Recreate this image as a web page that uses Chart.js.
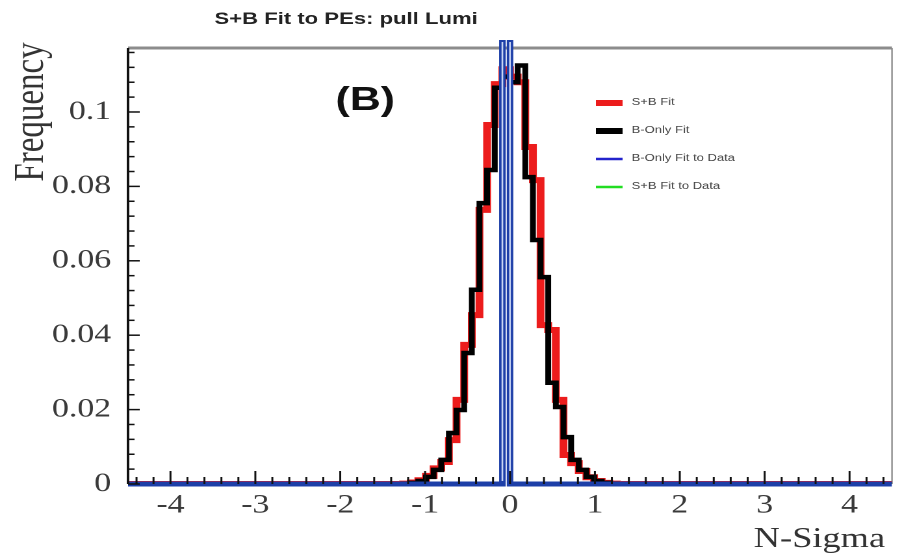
<!DOCTYPE html>
<html>
<head>
<meta charset="utf-8">
<script src="https://cdn.jsdelivr.net/npm/chart.js@4.4.1/dist/chart.umd.min.js"></script>
<style>
  html, body { margin: 0; padding: 0; background: #fff; overflow: hidden; }
  /* the original picture is stretched sideways, so is this one */
  #wrap { position: absolute; left: 0; top: 0; width: 694px; height: 558px;
          transform: scaleX(1.2997); transform-origin: 0 0; }
</style>
</head>
<body>
<div id="wrap"><canvas id="myChart"></canvas></div>
<script>
// histogram binning
const binStart = -4.5;
const binWidth = 0.09;
const binCount = 100;

// filled bins start at this edge
const firstEdge = -1.26;
const sbFitValues = [0.0001, 0.0004, 0.0010, 0.0022, 0.0042, 0.0059, 0.0118, 0.0226, 0.0374, 0.0454,
                     0.0737, 0.0965, 0.1075, 0.1115, 0.1095, 0.1080, 0.0906, 0.0817, 0.0427, 0.0414,
                     0.0226, 0.0078, 0.0056, 0.0035, 0.0018, 0.0008, 0.0003, 0.0001];
const bOnlyFitValues = [0.0001, 0.0003, 0.0008, 0.0019, 0.0038, 0.0065, 0.0137, 0.0199, 0.0352, 0.0522,
                        0.0755, 0.0844, 0.1065, 0.1095, 0.1080, 0.1125, 0.0825, 0.0656, 0.0556, 0.0272,
                        0.0207, 0.0126, 0.0065, 0.0038, 0.0019, 0.0008, 0.0003, 0.0001];

// fits to data: one bin each, far above the frame
const bOnlyDataEdge = [-0.09];
const bOnlyDataValues = [1];
const sbDataEdge = [-0.09];
const sbDataValues = [1];

const xTickValues = [-4, -3, -2, -1, 0, 1, 2, 3, 4];
const xTickLabels = ['-4', '-3', '-2', '-1', '0', '1', '2', '3', '4'];
const yTickValues = [0, 0.02, 0.04, 0.06, 0.08, 0.1];
const yTickLabels = ['0', '0.02', '0.04', '0.06', '0.08', '0.1'];

// build step points: one per bin left edge, plus the closing edge
function histPoints(values, edge0) {
    const pts = [];
    for (let i = 0; i < binCount; i++) {
        const edge = binStart + i * binWidth;
        const k = Math.round((edge - edge0) / binWidth);
        pts.push({ x: edge, y: (k >= 0 && k < values.length) ? values[k] : 0 });
    }
    pts.push({ x: binStart + binCount * binWidth, y: 0 });
    return pts;
}

const noClip = { left: 0, top: 0, right: 0, bottom: 0 };

// frame, inward ticks, legend and texts
const decor = {
    id: 'decor',
    beforeDatasetsDraw(chart) {
        const { ctx, chartArea: a } = chart;
        ctx.save();
        ctx.strokeStyle = '#8c8c8c';
        ctx.lineWidth = 3;
        ctx.beginPath(); ctx.moveTo(a.left, a.top); ctx.lineTo(a.right, a.top); ctx.stroke();
        ctx.lineWidth = 1.2;
        ctx.beginPath(); ctx.moveTo(a.right, a.top); ctx.lineTo(a.right, a.bottom); ctx.stroke();
        ctx.restore();
    },
    afterDatasetsDraw(chart) {
        const { ctx, chartArea: a, scales } = chart;
        const xs = scales.x, ys = scales.y;
        ctx.save();

        // light core of the blue data lines
        const blue = chart.data.datasets[2].data;
        ctx.strokeStyle = '#c9d5f3';
        ctx.lineWidth = 1.3;
        for (let i = 0; i < blue.length - 1; i++) {
            if (blue[i].y > 0) {
                [blue[i].x, blue[i + 1].x].forEach(e => {
                    const px = xs.getPixelForValue(e);
                    ctx.beginPath(); ctx.moveTo(px, a.top - 6); ctx.lineTo(px, a.bottom - 3); ctx.stroke();
                });
            }
        }

        // left axis with inward ticks
        ctx.strokeStyle = '#111';
        ctx.lineWidth = 2;
        ctx.beginPath(); ctx.moveTo(a.left, a.top); ctx.lineTo(a.left, a.bottom); ctx.stroke();
        ctx.lineWidth = 1.5;
        const yStep = (yTickValues[1] - yTickValues[0]) / 5;
        for (let k = 0; k * yStep <= ys.max + 1e-9; k++) {
            const py = ys.getPixelForValue(k * yStep);
            const len = (k % 5 === 0) ? 9 : 5;
            ctx.beginPath(); ctx.moveTo(a.left, py); ctx.lineTo(a.left + len, py); ctx.stroke();
        }
        // bottom axis ticks
        const xStep = (xTickValues[1] - xTickValues[0]) / 5;
        for (let k = Math.ceil(xs.min / xStep); k * xStep <= xs.max + 1e-9; k++) {
            const px = xs.getPixelForValue(k * xStep);
            const len = (k % 5 === 0) ? 13 : 7;
            ctx.beginPath(); ctx.moveTo(px, a.bottom); ctx.lineTo(px, a.bottom - len); ctx.stroke();
        }

        // legend
        const legendWidths = [6, 6, 2.5, 2.5];
        ctx.font = '10px "Liberation Sans"';
        ctx.fillStyle = '#444';
        ctx.textBaseline = 'middle';
        ctx.textAlign = 'left';
        chart.data.datasets.forEach((ds, i) => {
            const y = 103 + i * 28;
            ctx.strokeStyle = ds.legendColor || ds.borderColor;
            ctx.lineWidth = legendWidths[i];
            ctx.beginPath(); ctx.moveTo(458.5, y); ctx.lineTo(479, y); ctx.stroke();
            ctx.fillText(ds.label, 486, y - 1);
        });

        // title and labels
        ctx.fillStyle = '#222';
        ctx.font = 'bold 17px "Liberation Sans"';
        ctx.textBaseline = 'alphabetic';
        ctx.fillText('S+B Fit to PEs: pull Lumi', 165, 24);

        ctx.fillStyle = '#111';
        ctx.font = 'bold 33px "Liberation Sans"';
        ctx.textAlign = 'center';
        ctx.textBaseline = 'middle';
        ctx.fillText('(B)', 281, 101);

        ctx.fillStyle = '#333';
        ctx.font = '28px "Liberation Serif"';
        ctx.textAlign = 'right';
        ctx.textBaseline = 'alphabetic';
        ctx.fillText('N-Sigma', 681, 547);

        ctx.translate(33, 112);
        ctx.rotate(-Math.PI / 2);
        ctx.textAlign = 'center';
        ctx.font = '33px "Liberation Serif"';
        ctx.fillText('Frequency', 0, 0);
        ctx.restore();
    }
};

const ctx = document.getElementById('myChart').getContext('2d');

window.myChart = new Chart(ctx, {
    type: 'line',
    data: {
        datasets: [
            {
                label: 'S+B Fit',
                data: histPoints(sbFitValues, firstEdge),
                borderColor: '#ec1c1c',
                borderWidth: 6,
                order: 3,
                clip: noClip
            },
            {
                label: 'B-Only Fit',
                data: histPoints(bOnlyFitValues, firstEdge),
                borderColor: '#000000',
                borderWidth: 4.5,
                order: 2,
                clip: noClip
            },
            {
                label: 'B-Only Fit to Data',
                data: histPoints(bOnlyDataValues, bOnlyDataEdge[0]),
                borderColor: '#1d3fa8',
                legendColor: '#2323cc',
                borderWidth: 5,
                order: 0,
                clip: { left: 0, top: 8, right: 0, bottom: 6 }
            },
            {
                label: 'S+B Fit to Data',
                data: histPoints(sbDataValues, sbDataEdge[0]),
                borderColor: '#22dd22',
                borderWidth: 2,
                order: 1,
                clip: noClip
            }
        ]
    },
    options: {
        responsive: true,
        maintainAspectRatio: false,
        animation: false,
        devicePixelRatio: 2,
        layout: { padding: { top: 48, right: 7.7, left: 0, bottom: 0 } },
        elements: {
            point: { radius: 0 },
            line: { stepped: true, fill: false, tension: 0, borderCapStyle: 'butt', borderJoinStyle: 'miter' }
        },
        scales: {
            x: {
                type: 'linear',
                min: binStart,
                max: binStart + binCount * binWidth,
                afterBuildTicks: s => { s.ticks = xTickValues.map(v => ({ value: v })); },
                afterFit: s => { s.height = 74; },
                grid: { display: false },
                border: { display: false },
                ticks: {
                    callback: (v, i) => xTickLabels[i],
                    autoSkip: false, maxRotation: 0,
                    padding: -2,
                    color: '#3a3a3a',
                    font: { family: 'Liberation Serif', size: 26 }
                }
            },
            y: {
                min: 0,
                max: 0.1172,
                afterBuildTicks: s => { s.ticks = yTickValues.map(v => ({ value: v })); },
                afterFit: s => { s.width = 98.5; },
                grid: { display: false },
                border: { display: false },
                ticks: {
                    callback: (v, i) => yTickLabels[i],
                    autoSkip: false,
                    padding: 5,
                    color: '#3a3a3a',
                    font: { family: 'Liberation Serif', size: 26 }
                }
            }
        },
        plugins: {
            legend: { display: false },
            title: { display: false },
            tooltip: { enabled: false }
        }
    },
    plugins: [decor]
});
</script>
</body>
</html>
